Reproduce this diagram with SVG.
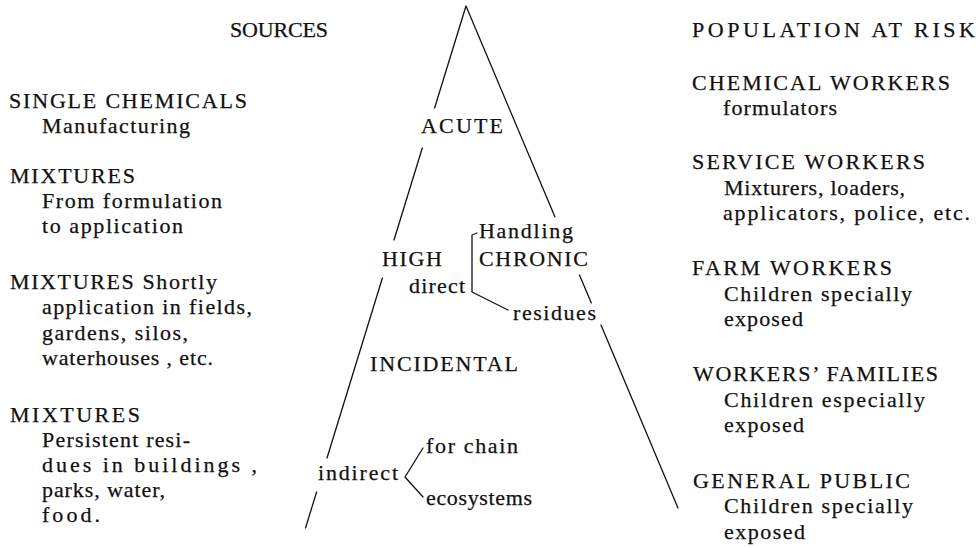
<svg xmlns="http://www.w3.org/2000/svg" width="978" height="548" viewBox="0 0 978 548">
<style>
text{font-family:"Liberation Serif","DejaVu Serif","Times New Roman",serif;font-size:22px;fill:#111;stroke:#111;stroke-width:0.25}
.ln{fill:none;stroke:#111;stroke-width:1.3;stroke-linecap:round;stroke-linejoin:round}
</style>
<rect width="978" height="548" fill="#fff"/>
<g id="connectors">
<polyline class="ln" points="434.6,108 466,6 555,217"/>
<line class="ln" x1="422.3" y1="148" x2="394" y2="240"/>
<line class="ln" x1="382.4" y1="278" x2="327" y2="458"/>
<line class="ln" x1="316.6" y1="492" x2="305.5" y2="528"/>
<line class="ln" x1="579.5" y1="275" x2="591.3" y2="303"/>
<line class="ln" x1="601" y1="325" x2="678" y2="508"/>
<path class="ln" d="M477,233 L472,235 L472,292 L508,310"/>
<path class="ln" d="M423,448 L405,477 L423,497"/>
</g>
<g id="sources" font-family="Liberation Serif, DejaVu Serif, serif">
<text x="230" y="37" textLength="98" lengthAdjust="spacing">SOURCES</text>
<text x="9" y="108" textLength="238" lengthAdjust="spacing">SINGLE CHEMICALS</text>
<text x="42" y="133" textLength="148" lengthAdjust="spacing">Manufacturing</text>
<text x="10" y="183" textLength="125" lengthAdjust="spacing">MIXTURES</text>
<text x="42" y="208" textLength="180" lengthAdjust="spacing">From formulation</text>
<text x="42" y="233" textLength="141" lengthAdjust="spacing">to application</text>
<text x="10" y="289" textLength="207" lengthAdjust="spacing">MIXTURES Shortly</text>
<text x="42" y="314" textLength="210" lengthAdjust="spacing">application in fields,</text>
<text x="42" y="340" textLength="146" lengthAdjust="spacing">gardens, silos,</text>
<text x="42" y="365" textLength="171" lengthAdjust="spacing">waterhouses , etc.</text>
<text x="10" y="422" textLength="130" lengthAdjust="spacing">MIXTURES</text>
<text x="42" y="447" textLength="148" lengthAdjust="spacing">Persistent resi-</text>
<text x="42" y="472" textLength="215" lengthAdjust="spacing">dues in buildings ,</text>
<text x="42" y="497" textLength="123" lengthAdjust="spacing">parks, water,</text>
<text x="42" y="522" textLength="58" lengthAdjust="spacing">food.</text>
</g>
<g id="acute"><text x="421" y="133" textLength="82" lengthAdjust="spacing">ACUTE</text></g>
<g id="high"><text x="382" y="266" textLength="60" lengthAdjust="spacing">HIGH</text></g>
<g id="direct"><text x="409" y="293" textLength="56" lengthAdjust="spacing">direct</text></g>
<g id="handling"><text x="479" y="238" textLength="94" lengthAdjust="spacing">Handling</text></g>
<g id="chronic"><text x="479" y="266" textLength="109" lengthAdjust="spacing">CHRONIC</text></g>
<g id="residues"><text x="513" y="320" textLength="83" lengthAdjust="spacing">residues</text></g>
<g id="incidental"><text x="370" y="371" textLength="148" lengthAdjust="spacing">INCIDENTAL</text></g>
<g id="indirect"><text x="318" y="480" textLength="80" lengthAdjust="spacing">indirect</text></g>
<g id="forchain"><text x="426" y="453" textLength="92" lengthAdjust="spacing">for chain</text></g>
<g id="ecosystems"><text x="426" y="505" textLength="106" lengthAdjust="spacing">ecosystems</text></g>
<g id="population">
<text x="692" y="37" textLength="283" lengthAdjust="spacing">POPULATION AT RISK</text>
<text x="692" y="90" textLength="258" lengthAdjust="spacing">CHEMICAL WORKERS</text>
<text x="723" y="115" textLength="114" lengthAdjust="spacing">formulators</text>
<text x="692" y="169" textLength="233" lengthAdjust="spacing">SERVICE WORKERS</text>
<text x="724" y="195" textLength="181" lengthAdjust="spacing">Mixturers, loaders,</text>
<text x="723" y="220" textLength="247" lengthAdjust="spacing">applicators, police, etc.</text>
<text x="692" y="275" textLength="200" lengthAdjust="spacing">FARM WORKERS</text>
<text x="724" y="301" textLength="188" lengthAdjust="spacing">Children specially</text>
<text x="724" y="326" textLength="79" lengthAdjust="spacing">exposed</text>
<text x="693" y="381" textLength="245" lengthAdjust="spacing">WORKERS’ FAMILIES</text>
<text x="724" y="407" textLength="201" lengthAdjust="spacing">Children especially</text>
<text x="724" y="432" textLength="80" lengthAdjust="spacing">exposed</text>
<text x="693" y="488" textLength="217" lengthAdjust="spacing">GENERAL PUBLIC</text>
<text x="724" y="513" textLength="189" lengthAdjust="spacing">Children specially</text>
<text x="724" y="539" textLength="81" lengthAdjust="spacing">exposed</text>
</g>
</svg>
